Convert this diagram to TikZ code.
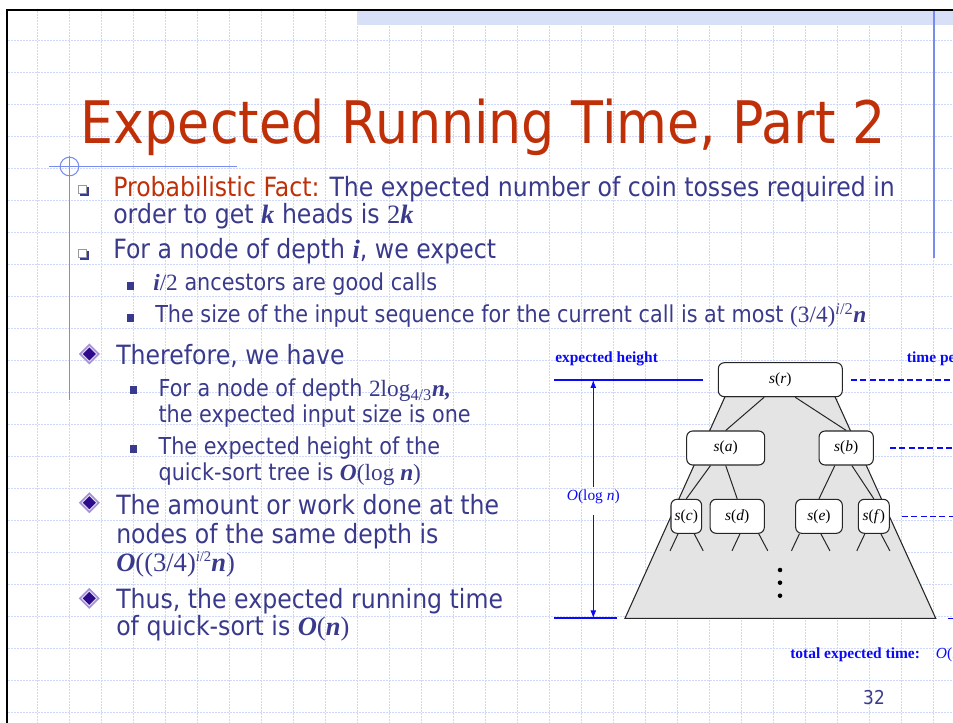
\documentclass[tikz,border=0pt]{standalone}
\usepackage{fontspec}
\setmainfont{DejaVu Sans}[FakeStretch=0.89]
\newfontfamily\tm{Liberation Serif}
\usetikzlibrary{arrows.meta,calc}

\definecolor{titlered}{RGB}{192,48,8}
\definecolor{bodyblue}{RGB}{58,58,140}
\definecolor{gridblue}{RGB}{205,216,250}
\definecolor{decoblue}{RGB}{120,140,240}
\definecolor{bandblue}{RGB}{216,224,248}
\definecolor{diablue}{RGB}{10,10,245}
\definecolor{treegray}{RGB}{228,228,228}
\definecolor{diaout}{RGB}{165,145,215}
\definecolor{diarim}{RGB}{225,220,245}
\definecolor{diain}{RGB}{45,10,140}

\newcommand{\mk}[1]{{\tm\bfseries\itshape #1}}
\newcommand{\sx}[1]{\textit{s}(\textit{#1})}

\begin{document}
\begin{tikzpicture}[x=0.75pt,y=-0.75pt,
  gridline/.style={gridblue,line width=0.75pt,dash pattern=on 1.5pt off 0.75pt},
  decoline/.style={decoblue,line width=1.4pt},
  txt/.style={anchor=base west,inner sep=0,text=bodyblue,font=\fontsize{19.9}{24}\selectfont},
  sub/.style={txt,font=\fontsize{17.5}{21}\selectfont},
  lbl/.style={anchor=base west,inner sep=0,text=diablue,font=\tm\bfseries\fontsize{11.6}{14}\selectfont},
  box/.style={draw=black!85,fill=white,rounded corners=4.5pt,line width=0.8pt,
    minimum height=25.5pt,inner sep=0,font=\tm\fontsize{11.6}{14}\selectfont},
  edge/.style={black!85,line width=0.75pt},
  hgtline/.style={diablue,line width=1.6pt},
  hgtarrow/.style={diablue,line width=0.8pt,-{Latex[length=6pt,width=4.5pt]}},
  lvl/.style={draw=diablue,line width=1pt,dash pattern=on 4.5pt off 2.5pt}]
  \useasboundingbox (0,0) rectangle (953,723);
  \clip (0,0) rectangle (953,723);

  % background grid and frame
  \foreach \k in {1,...,29}
    \draw[gridline] (5.7+32*\k,11) -- (5.7+32*\k,723);
  \foreach \k in {1,...,22}
    \draw[gridline] (8,8.7+32*\k) -- (953,8.7+32*\k);
  \fill[bandblue] (357,11) rectangle (953,25);
  \draw[line width=1.6pt] (7,723) -- (7,10) -- (953,10);
  \draw[decoline] (934,11) -- (934,258);
  \draw[decoline,line width=1pt] (49,166.5) -- (237,166.5);
  \draw[decoline] (69.5,156) -- (69.5,400);
  \draw[decoblue,line width=0.8pt] (69.5,166.5) circle (7pt);

  % title
  \node[anchor=base west,inner sep=0,text=titlered,font=\fontsize{44}{50}\selectfont]
    (title) at (80.6,144) {Expected Running Time, Part 2};

  % bullets
  \foreach \y in {190,254} {
    \fill[bodyblue] (80,\y-3) rectangle ++(9,9);
    \filldraw[fill=white,draw=black!40,line width=0.5pt] (78,\y-5) rectangle ++(8.5,8.5);
  }
  \foreach \x/\y in {130.5/286,130.5/318,133.3/390,133.3/449}
    \fill[bodyblue] (\x-3.75,\y-3.75) rectangle ++(7.5,7.5);
  \foreach \y in {354,502.7,598.3} {
    \fill[diaout] (89.3,\y-10.5) -- ++(10.5,10.5) -- ++(-10.5,10.5) -- ++(-10.5,-10.5) -- cycle;
    \fill[diarim] (89.3,\y-8) -- ++(8,8) -- ++(-8,8) -- ++(-8,-8) -- cycle;
    \fill[diain] (89.3,\y-6.5) -- ++(6.5,6.5) -- ++(-6.5,6.5) -- ++(-6.5,-6.5) -- cycle;
  }

  % text
  \node[txt] (l1) at (113,197) {{\color{titlered}Probabilistic Fact:} The expected number of coin tosses required in};
  \node[txt] (l2) at (113,224) {order to get \mk{k} heads is {\tm 2}\mk{k}};
  \node[txt] (l3) at (113,259) {For a node of depth \mk{i}, we expect};
  \node[sub] (l4) at (153,291) {\mk{i}{\tm/2} ancestors are good calls};
  \node[sub] (l5) at (155,323) {The size of the input sequence for the current call is at most {\tm(3/4)}\textsuperscript{\tm\itshape i\upshape/2}\mk{n}};
  \node[txt] (l6) at (116,364.3) {Therefore, we have};
  \node[sub] (l7) at (158.3,396.7) {For a node of depth {\tm 2log}\textsubscript{\tm 4/3}\mk{n,}};
  \node[sub] (l8) at (158.3,422.7) {the expected input size is one};
  \node[sub] (l9) at (158.3,455) {The expected height of the};
  \node[sub] (l10) at (158.3,480) {quick-sort tree is \mk{O}{\tm(log }\mk{n}{\tm)}};
  \node[txt] (l11) at (116,514.3) {The amount or work done at the};
  \node[txt] (l12) at (116,543.3) {nodes of the same depth is};
  \node[txt] (l13) at (116,571.7) {\mk{O}{\tm((3/4)}{\tm\fontsize{11}{12}\selectfont\raisebox{7.5pt}{\itshape i\upshape/2}}\mk{n}{\tm)}};
  \node[txt] (l14) at (116,608.3) {Thus, the expected running time};
  \node[txt] (l15) at (116,635) {of quick-sort is \mk{O}{\tm(}\mk{n}{\tm)}};
  \node[anchor=base,inner sep=0,text=bodyblue,font=\fontsize{14.3}{17}\selectfont] (pnum) at (874,704) {32};

  % quick-sort tree
  \coordinate (tl) at (725,396.7);
  \coordinate (bl) at (625,618.3);
  \coordinate (br) at (935.7,618.3);
  \coordinate (tr) at (835,396.7);
  \filldraw[fill=treegray,draw=black!85,line width=0.8pt] (tl) -- (bl) -- (br) -- (tr) -- cycle;

  \node[box,minimum width=93pt] (r) at (780.3,379.7) {\sx{r}};
  \node[box,minimum width=58.5pt] (a) at (725.7,448) {\sx{a}};
  \node[box,minimum width=40.7pt] (b) at (846.2,448) {\sx{b}};
  \node[box,minimum width=23pt] (c) at (686.3,516.3) {\sx{c}};
  \node[box,minimum width=40.7pt] (d) at (737.2,516.3) {\sx{d}};
  \node[box,minimum width=35pt] (e) at (819,516.3) {\sx{e}};
  \node[box,minimum width=23.25pt] (f) at (873.8,516.3) {\sx{f}};

  \draw[edge] ($(r.south west)!0.371!(r.south east)$) -- (a.north);
  \draw[edge] ($(r.south west)!0.619!(r.south east)$) -- (b.north);
  \draw[edge] ($(a.south west)!0.308!(a.south east)$) -- (c.north);
  \draw[edge] (a.south) -- (d.north);
  \draw[edge] ($(b.south west)!0.295!(b.south east)$) -- (e.north);
  \draw[edge] ($(b.south west)!0.602!(b.south east)$) -- (f.north);
  \foreach \n/\p/\q in {c/0.24/0.75,d/0.55/0.89,e/0.09/0.54,f/0.22/0.72} {
    \draw[edge] ($(\n.south west)!\p!(\n.south east)$) -- ++(-8,17);
    \draw[edge] ($(\n.south west)!\q!(\n.south east)$) -- ++(9,17);
  }
  \foreach \y in {570,582.7,595.7}
    \fill (780,\y) circle (1.7pt);

  % expected height
  \node[lbl] (eh) at (555,362.7) {expected height};
  \node[lbl] (tp) at (906.7,362.7) {time pe};
  \coordinate (htop) at (593.3,380);
  \coordinate (hbot) at (593.3,618.3);
  \draw[hgtline] (554,380) -- (703.3,380);
  \draw[hgtline] (554,618.3) -- (617.3,618.3);
  \node[inner sep=2pt,text=diablue,font=\tm\fontsize{11.6}{14}\selectfont] (oh) at (593.3,496.7) {\textit{O}(log \textit{n})};
  \draw[hgtarrow] (oh.north) -- (htop);
  \draw[hgtarrow] ($(oh.south)+(0,8)$) -- (hbot);

  % time per level
  \draw[lvl] ($(r.east)+(8,0.4)$) -- ++(130,0);
  \draw[lvl] ($(b.east)+(16,0)$) -- ++(90,0);
  \draw[lvl] ($(f.east)+(12,0)$) -- ++(80,0);
  \draw[lvl] ($(br)+(12,0)$) -- ++(40,0);
  \node[lbl] (tt) at (790,658.3) {total expected time:};
  \node[lbl,font=\tm\fontsize{11.6}{14}\selectfont] (on) at (935.7,658.3) {\textit{O}(\textit{n}};
\end{tikzpicture}
\end{document}
